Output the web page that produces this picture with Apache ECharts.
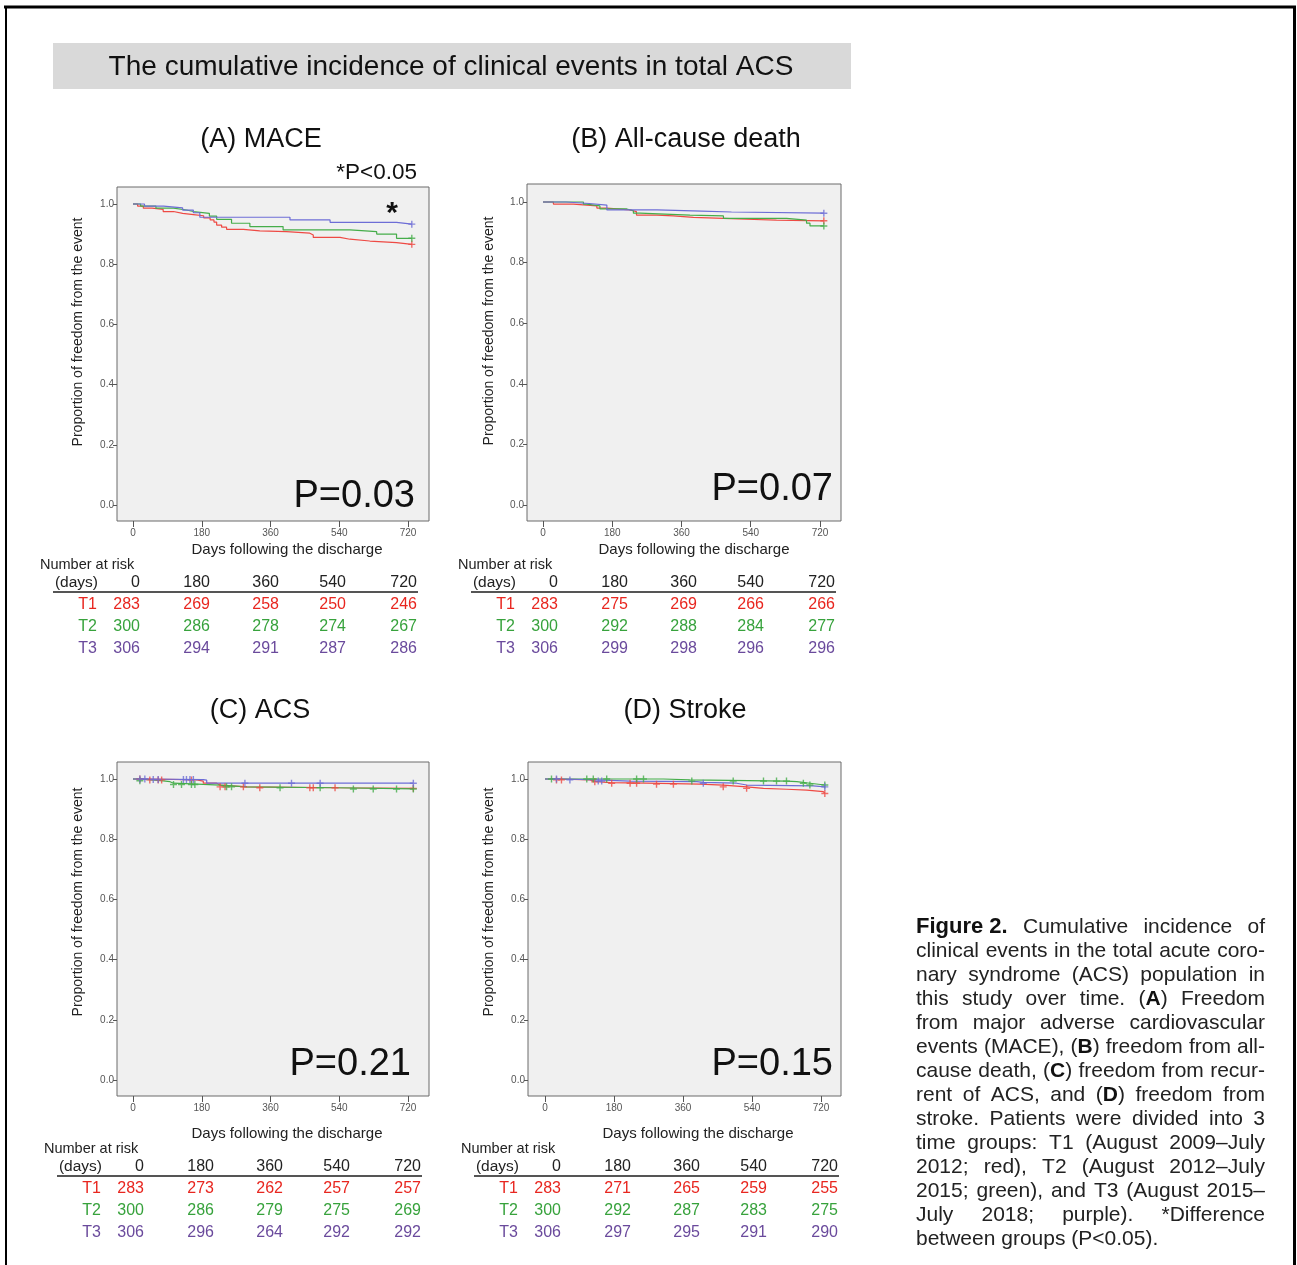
<!DOCTYPE html>
<html>
<head>
<meta charset="utf-8">
<script src="https://cdn.jsdelivr.net/npm/echarts@6/dist/echarts.min.js"></script>
<style>
  html, body { margin: 0; padding: 0; background: #fff; }
  #chart { width: 1297px; height: 1265px; }
</style>
</head>
<body>
<div id="chart"></div>
<script>
// ---- data ----
// KM step points [day, proportion free of event]
const maceT1 = [[0,1],[12,0.993],[27,0.986],[50,0.982],[79,0.975],[106,0.969],[130,0.965],[158,0.961],[185,0.954],[202,0.947],[212,0.940],[219,0.930],[232,0.923],[245,0.916],[289,0.911],[332,0.908],[402,0.903],[463,0.897],[472,0.889],[542,0.883],[568,0.877],[620,0.872],[690,0.866],[730,0.866]];
const maceT2 = [[0,1],[20,0.993],[60,0.986],[106,0.980],[140,0.975],[158,0.969],[200,0.960],[219,0.949],[258,0.936],[306,0.925],[393,0.914],[568,0.908],[638,0.900],[690,0.886],[730,0.886]];
const maceT3 = [[0,1],[30,0.993],[80,0.987],[130,0.980],[158,0.971],[175,0.956],[411,0.947],[516,0.939],[690,0.933],[730,0.933]];

const deathT1 = [[0,1],[27,0.993],[79,0.987],[140,0.980],[166,0.974],[226,0.968],[243,0.957],[296,0.954],[339,0.949],[391,0.946],[469,0.943],[529,0.940],[607,0.938],[730,0.938]];
const deathT2 = [[0,1],[105,0.993],[113,0.987],[148,0.977],[218,0.971],[235,0.963],[252,0.957],[382,0.954],[469,0.946],[633,0.940],[685,0.930],[694,0.921],[730,0.921]];
const deathT3 = [[0,1],[60,0.995],[120,0.990],[166,0.974],[296,0.970],[413,0.967],[490,0.963],[730,0.963]];

const acsT1 = [[0,1],[40,0.997],[167,0.993],[184,0.986],[219,0.980],[228,0.974],[298,0.971],[533,0.969],[734,0.969]];
const acsT2 = [[0,1],[18,0.994],[79,0.991],[97,0.986],[106,0.982],[184,0.980],[228,0.974],[298,0.971],[533,0.967],[734,0.967]];
const acsT3 = [[0,1],[40,0.998],[184,0.996],[193,0.986],[734,0.986]];

const strokeT1 = [[0,1],[30,0.997],[117,0.991],[135,0.988],[170,0.986],[265,0.983],[404,0.980],[465,0.974],[526,0.969],[570,0.966],[631,0.963],[683,0.958],[726,0.952],[730,0.952]];
const strokeT2 = [[0,1],[309,0.997],[378,0.993],[631,0.991],[657,0.986],[691,0.980],[730,0.980]];
const strokeT3 = [[0,1],[48,0.997],[135,0.993],[222,0.991],[396,0.989],[413,0.986],[500,0.980],[526,0.977],[700,0.974],[730,0.974]];

// censoring times (days)
const maceCens = [[730],[730],[730]];
const deathCens = [[730],[730],[730]];
const acsCens = [
  [18,44,66,75,153,228,241,289,332,463,472,529,734],
  [18,106,127,153,162,245,258,385,490,577,629,690,734],
  [18,31,53,66,132,140,149,158,293,415,490,734]
];
const strokeCens = [
  [30,43,130,174,222,239,291,335,465,526,730],
  [17,109,126,161,239,257,383,491,570,604,630,674,691,730],
  [30,65,139,148,413,730]
];

// number at risk
const riskDays = ['0','180','360','540','720'];
const groups = ['T1','T2','T3'];
const maceRisk = [[283,269,258,250,246],[300,286,278,274,267],[306,294,291,287,286]];
const deathRisk = [[283,275,269,266,266],[300,292,288,284,277],[306,299,298,296,296]];
const acsRisk = [[283,273,262,257,257],[300,286,279,275,269],[306,296,264,292,292]];
const strokeRisk = [[283,271,265,259,255],[300,292,287,283,275],[306,297,295,291,290]];

const xTicks = [0,180,360,540,720];
const yTicks = [0,0.2,0.4,0.6,0.8,1.0];

const panelTitles = ['(A) MACE','(B) All-cause death','(C) ACS','(D) Stroke'];
const pValues = ['P=0.03','P=0.07','P=0.21','P=0.15'];

const captionLines = [
  '##Figure_2.## Cumulative incidence of',
  'clinical events in the total acute coro-',
  'nary syndrome (ACS) population in',
  'this study over time. (*A*) Freedom',
  'from major adverse cardiovascular',
  'events (MACE), (*B*) freedom from all-',
  'cause death, (*C*) freedom from recur-',
  'rent of ACS, and (*D*) freedom from',
  'stroke. Patients were divided into 3',
  'time groups: T1 (August 2009\u2013July',
  '2012; red), T2 (August 2012\u2013July',
  '2015; green), and T3 (August 2015\u2013',
  'July 2018; purple). *Difference',
  'between groups (P<0.05).'
];

// ---- layout ----
const lineColors = ['#ee4a44','#45ad4a','#6d6dd6'];
const textColors = ['#e8261f','#37a23c','#6a4a9c'];
const FONT = '"Liberation Sans", Arial, sans-serif';

const panels = [
  {curves:[maceT1,maceT2,maceT3], cens:maceCens, risk:maceRisk,
   grid:{left:117,top:187,width:312,height:334}, x:[-41.9,775], y:[-0.0532,1.0565],
   title:[261,140], p:[415,497], yName:[78,332], xName:[287,550], tdx:0, tdy:0},
  {curves:[deathT1,deathT2,deathT3], cens:deathCens, risk:deathRisk,
   grid:{left:527,top:184,width:314,height:337}, x:[-41.6,774.6], y:[-0.0528,1.0594],
   title:[686,140], p:[833,490], yName:[489,331], xName:[694,550], tdx:418, tdy:0},
  {curves:[acsT1,acsT2,acsT3], cens:acsCens, risk:acsRisk,
   grid:{left:117,top:762,width:312,height:334}, x:[-41.9,775], y:[-0.053,1.0565],
   title:[260,711], p:[411,1065], yName:[78,902], xName:[287,1134], tdx:4, tdy:584},
  {curves:[strokeT1,strokeT2,strokeT3], cens:strokeCens, risk:strokeRisk,
   grid:{left:528,top:762,width:313,height:334}, x:[-44.3,772.2], y:[-0.053,1.0565],
   title:[685,711], p:[833,1065], yName:[489,902], xName:[698,1134], tdx:421, tdy:584}
];

function survAt(curve, t) {
  let v = curve[0][1];
  for (const pt of curve) { if (pt[0] <= t) v = pt[1]; }
  return v;
}

const plusPath = 'path://M4,0h2v4h4v2h-4v4h-2v-4h-4v-2h4z';

const grids = [], xAxes = [], yAxes = [], series = [], graphics = [];

panels.forEach((pn, i) => {
  grids.push(Object.assign({show:true, backgroundColor:'#f0f0f0', borderColor:'#6a6a6a', borderWidth:1,
    containLabel:false, outerBoundsMode:'none'}, pn.grid));
  xAxes.push({type:'value', gridIndex:i, min:pn.x[0], max:pn.x[1], position:'bottom',
    axisLine:{show:false, onZero:false}, splitLine:{show:false},
    axisTick:{show:true, inside:false, length:6, lineStyle:{color:'#555'}, customValues:xTicks},
    axisLabel:{color:'#555', fontSize:10, fontFamily:FONT, margin:7, customValues:xTicks}});
  yAxes.push({type:'value', gridIndex:i, min:pn.y[0], max:pn.y[1], position:'left',
    axisLine:{show:false, onZero:false}, splitLine:{show:false},
    axisTick:{show:true, inside:false, length:4, lineStyle:{color:'#555'}, customValues:yTicks},
    axisLabel:{color:'#555', fontSize:10, fontFamily:FONT, margin:3, customValues:yTicks,
      formatter: v => v.toFixed(1)}});

  pn.curves.forEach((c, g) => {
    series.push({type:'line', xAxisIndex:i, yAxisIndex:i, data:c, step:'end',
      showSymbol:false, symbol:'none', silent:true,
      lineStyle:{width:1.2, color:lineColors[g]}, z:3});
    series.push({type:'scatter', xAxisIndex:i, yAxisIndex:i,
      data:pn.cens[g].map(t => [t, survAt(c, t)]),
      symbol:plusPath, symbolSize:7, itemStyle:{color:lineColors[g]}, silent:true, z:4});
  });

  graphics.push({type:'text', x:pn.title[0], y:pn.title[1],
    style:{text:panelTitles[i], font:'27px ' + FONT, fill:'#111', align:'center', verticalAlign:'middle'}});
  graphics.push({type:'text', x:pn.p[0], y:pn.p[1],
    style:{text:pValues[i], font:'38px ' + FONT, fill:'#111', align:'right', verticalAlign:'middle'}, z:10});
  graphics.push({type:'text', x:pn.yName[0], y:pn.yName[1], rotation:Math.PI/2,
    style:{text:'Proportion of freedom from the event', font:'14px ' + FONT, fill:'#222', align:'center', verticalAlign:'middle'}});
  graphics.push({type:'text', x:pn.xName[0], y:pn.xName[1],
    style:{text:'Days following the discharge', font:'15px ' + FONT, fill:'#222', align:'center', verticalAlign:'middle'}});

  // number-at-risk table
  const dx = pn.tdx, dy = pn.tdy;
  const colRight = [140,210,279,346,417];
  graphics.push({type:'text', x:40+dx, y:565+dy,
    style:{text:'Number at risk', font:'14.5px ' + FONT, fill:'#222', align:'left', verticalAlign:'middle'}});
  graphics.push({type:'text', x:98+dx, y:583+dy,
    style:{text:'(days)', font:'15.5px ' + FONT, fill:'#222', align:'right', verticalAlign:'middle'}});
  riskDays.forEach((d, k) => graphics.push({type:'text', x:colRight[k]+dx, y:583+dy,
    style:{text:d, font:'16px ' + FONT, fill:'#222', align:'right', verticalAlign:'middle'}}));
  graphics.push({type:'line', shape:{x1:53+dx, y1:592+dy, x2:418+dx, y2:592+dy},
    style:{stroke:'#555', lineWidth:2}});
  groups.forEach((gname, g) => {
    const ry = 605 + g*21.7 + dy;
    graphics.push({type:'text', x:97+dx, y:ry,
      style:{text:gname, font:'16px ' + FONT, fill:textColors[g], align:'right', verticalAlign:'middle'}});
    pn.risk[g].forEach((n, k) => graphics.push({type:'text', x:colRight[k]+dx, y:ry,
      style:{text:String(n), font:'16px ' + FONT, fill:textColors[g], align:'right', verticalAlign:'middle'}}));
  });
});

// frame + heading
graphics.push({type:'line', shape:{x1:4, y1:7, x2:1296, y2:7}, style:{stroke:'#000', lineWidth:3}});
graphics.push({type:'line', shape:{x1:6, y1:6, x2:6, y2:1265}, style:{stroke:'#000', lineWidth:2}});
graphics.push({type:'line', shape:{x1:1294.5, y1:6, x2:1294.5, y2:1265}, style:{stroke:'#000', lineWidth:3}});
graphics.push({type:'rect', shape:{x:53, y:43, width:798, height:46}, style:{fill:'#d9d9d9'}});
graphics.push({type:'text', x:451, y:67,
  style:{text:'The cumulative incidence of clinical events in total ACS', font:'28px ' + FONT, fill:'#111', align:'center', verticalAlign:'middle'}});
graphics.push({type:'text', x:417, y:173,
  style:{text:'*P<0.05', font:'22.5px ' + FONT, fill:'#111', align:'right', verticalAlign:'middle'}});
graphics.push({type:'text', x:392, y:214,
  style:{text:'*', font:'bold 30px ' + FONT, fill:'#111', align:'center', verticalAlign:'middle'}, z:10});

// caption, justified by hand
const capFont = '21px ' + FONT;
const capBold = 'bold 21px ' + FONT;
const capHead = 'bold 22px "Liberation Sans Narrow", ' + FONT;
const ctx = document.createElement('canvas').getContext('2d');
function measure(s, f) { ctx.font = f; return ctx.measureText(s).width; }
function wordItem(w) {
  if (w.startsWith('##')) {
    const t = w.replace(/#/g, '').replace('_', ' ');
    return {text:'{h|' + t + '}', width:measure(t, capHead)};
  }
  const m = w.match(/^(.*)\*(.)\*(.*)$/);
  if (m) {
    return {text:m[1] + '{b|' + m[2] + '}' + m[3],
      width:measure(m[1] + m[3], capFont) + measure(m[2], capBold)};
  }
  return {text:w, width:measure(w, capFont)};
}
const capLeft = 916, capRight = 1265;
captionLines.forEach((line, i) => {
  const items = line.split(' ').map(wordItem);
  const y = 927 + 24*i;
  const total = items.reduce((s, it) => s + it.width, 0);
  const last = i === captionLines.length - 1;
  const gap = last ? measure(' ', capFont) : (capRight - capLeft - total) / (items.length - 1);
  let x = capLeft;
  items.forEach(it => {
    graphics.push({type:'text', x:x, y:y,
      style:{text:it.text, font:capFont, fill:'#222', align:'left', verticalAlign:'middle',
        rich:{b:{font:capBold, fill:'#111'}, h:{font:capHead, fill:'#111'}}}});
    x += it.width + gap;
  });
});

const chart = echarts.init(document.getElementById('chart'));
chart.setOption({
  animation:false,
  backgroundColor:'#fff',
  grid:grids,
  xAxis:xAxes,
  yAxis:yAxes,
  series:series,
  graphic:{elements:graphics}
});
</script>
</body>
</html>
